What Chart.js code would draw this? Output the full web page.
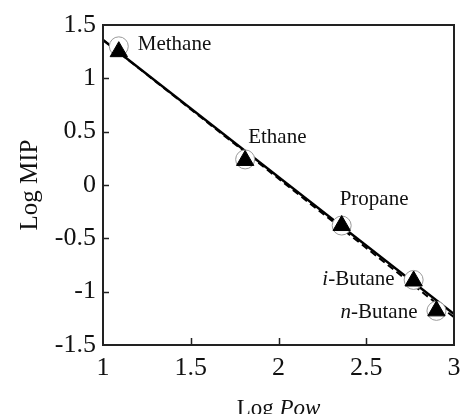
<!DOCTYPE html>
<html>
<head>
<meta charset="utf-8">
<script src="https://cdn.jsdelivr.net/npm/chart.js@4/dist/chart.umd.min.js"></script>
<style>
  html, body { margin: 0; padding: 0; background: #fff; }
  #wrap { width: 461px; height: 414px; }
</style>
</head>
<body>
<div id="wrap"><canvas id="chart"></canvas></div>
<script>
// gases, Log Pow, Log MIP (circles) and Log MIP (triangles)
const gasNames = ["Methane", "Ethane", "Propane", "i-Butane", "n-Butane"];
const logPow = [1.09, 1.81, 2.36, 2.77, 2.90];
const circleMIP = [1.30, 0.24, -0.38, -0.89, -1.18];
const triangleMIP = [1.25, 0.23, -0.38, -0.90, -1.18];

// fitted lines
const fitX = [1, 3];
const fitY = [1.36, -1.21];
const dashY = [1.36, -1.24];

const xTicks = [1, 1.5, 2, 2.5, 3];
const yTicks = [-1.5, -1, -0.5, 0, 0.5, 1, 1.5];

const serif = "'Liberation Serif', 'Times New Roman', serif";

// where each label sits relative to its point
const labelPlace = {
  "Methane": { dx: 19, dy: -2, align: "left" },
  "Ethane": { dx: 3, dy: -22, align: "left" },
  "Propane": { dx: -2, dy: -26, align: "left" },
  "i-Butane": { dx: -19, dy: 0, align: "right" },
  "n-Butane": { dx: -19, dy: 2, align: "right" }
};

const toPoints = (xs, ys) => xs.map((x, i) => ({ x: x, y: ys[i] }));

// box, inner ticks, point labels and x title
const decorPlugin = {
  id: "decor",
  afterDatasetsDraw(chart) {
    const ctx = chart.ctx;
    const a = chart.chartArea;
    const xs = chart.scales.x, ys = chart.scales.y;
    ctx.save();
    ctx.strokeStyle = "#222";
    ctx.lineWidth = 2;
    ctx.strokeRect(a.left, a.top, a.right - a.left, a.bottom - a.top);
    ctx.lineWidth = 1.5;
    ctx.beginPath();
    yTicks.slice(1, -1).forEach(v => {
      const py = Math.round(ys.getPixelForValue(v)) + 0.5;
      ctx.moveTo(a.left, py);
      ctx.lineTo(a.left + 6, py);
    });
    xTicks.slice(1, -1).forEach(v => {
      const px = Math.round(xs.getPixelForValue(v)) + 0.5;
      ctx.moveTo(px, a.bottom);
      ctx.lineTo(px, a.bottom - 7);
    });
    ctx.stroke();

    // point labels
    ctx.fillStyle = "#111";
    ctx.textBaseline = "middle";
    gasNames.forEach((name, i) => {
      const p = labelPlace[name];
      const px = xs.getPixelForValue(logPow[i]) + p.dx;
      const py = ys.getPixelForValue(circleMIP[i]) + p.dy;
      let pre = "", rest = name;
      if (name.indexOf("-") === 1) { pre = name.slice(0, 1); rest = name.slice(1); }
      ctx.font = "italic 21px " + serif;
      const wPre = ctx.measureText(pre).width;
      ctx.font = "21px " + serif;
      const wRest = ctx.measureText(rest).width;
      const x0 = p.align === "right" ? px - wPre - wRest : px;
      ctx.textAlign = "left";
      if (pre) {
        ctx.font = "italic 21px " + serif;
        ctx.fillText(pre, x0, py);
      }
      ctx.font = "21px " + serif;
      ctx.fillText(rest, x0 + wPre, py);
    });

    // x axis title "Log Pow"
    const cx = (a.left + a.right) / 2;
    ctx.font = "23px " + serif;
    const w1 = ctx.measureText("Log ").width;
    ctx.font = "italic 23px " + serif;
    const w2 = ctx.measureText("Pow").width;
    const sx = cx - (w1 + w2) / 2;
    ctx.font = "23px " + serif;
    ctx.fillText("Log ", sx, 409);
    ctx.font = "italic 23px " + serif;
    ctx.fillText("Pow", sx + w1, 409);
    ctx.restore();
  }
};

new Chart(document.getElementById("chart"), {
  type: "scatter",
  data: {
    datasets: [
      {
        label: "triangles",
        data: toPoints(logPow, triangleMIP),
        pointStyle: "triangle",
        pointRadius: 10,
        backgroundColor: "#000",
        borderColor: "#000",
        borderWidth: 1,
        order: 0
      },
      {
        label: "circles",
        data: toPoints(logPow, circleMIP),
        pointStyle: "circle",
        pointRadius: 9.5,
        backgroundColor: "#fff",
        borderColor: "#999",
        borderWidth: 1,
        order: 1
      },
      {
        label: "fit",
        data: toPoints(fitX, fitY),
        showLine: true,
        pointRadius: 0,
        borderColor: "#000",
        borderWidth: 2.6,
        order: 2
      },
      {
        label: "fit2",
        data: toPoints(fitX, dashY),
        showLine: true,
        pointRadius: 0,
        borderColor: "#000",
        borderWidth: 2,
        borderDash: [7, 4],
        order: 3
      }
    ]
  },
  options: {
    responsive: true,
    maintainAspectRatio: false,
    animation: false,
    layout: { autoPadding: false, padding: { top: 25, right: 0, left: 0, bottom: 0 } },
    plugins: {
      legend: { display: false },
      tooltip: { enabled: false }
    },
    scales: {
      x: {
        type: "linear",
        min: 1,
        max: 3,
        afterBuildTicks: s => { s.ticks = xTicks.map(v => ({ value: v })); },
        afterFit: s => { s.height = 69; s.paddingRight = 7; s.paddingLeft = 0; },
        grid: { drawOnChartArea: false, drawTicks: false },
        border: { display: false },
        ticks: {
          color: "#111",
          padding: 8,
          maxRotation: 0,
          font: { family: serif, size: 26 },
          callback: v => String(v)
        }
      },
      y: {
        type: "linear",
        min: -1.5,
        max: 1.5,
        afterBuildTicks: s => { s.ticks = yTicks.map(v => ({ value: v })); },
        afterFit: s => { s.width = 103; },
        grid: { drawOnChartArea: false, drawTicks: false },
        border: { display: false },
        title: {
          display: true,
          text: "Log MIP",
          color: "#111",
          padding: { top: 15, bottom: 0 },
          font: { family: serif, size: 25 }
        },
        ticks: {
          color: "#111",
          padding: 7,
          font: { family: serif, size: 26 },
          callback: v => String(v)
        }
      }
    }
  },
  plugins: [decorPlugin]
});
</script>
</body>
</html>
